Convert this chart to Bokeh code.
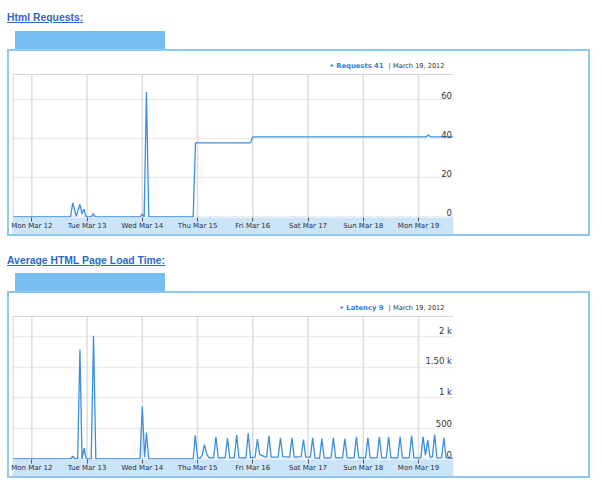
import pandas as pd
from bokeh.plotting import figure
from bokeh.models import Range1d, FixedTicker, Div, Label, Span, ColumnDataSource
from bokeh.layouts import column
from bokeh.embed import file_html
from bokeh.resources import INLINE
from bokeh.core.properties import value

# ---------------- data ----------------
base_day = "2012-03-12"
day_dates = ["2012-03-12", "2012-03-13", "2012-03-14", "2012-03-15",
             "2012-03-16", "2012-03-17", "2012-03-18", "2012-03-19"]
day_labels = ["Mon Mar 12", "Tue Mar 13", "Wed Mar 14", "Thu Mar 15",
              "Fri Mar 16", "Sat Mar 17", "Sun Mar 18", "Mon Mar 19"]
legend_date = "March 19, 2012"

# Html Requests (hours from Mon Mar 12 00:00, value)
req_title = "Html Requests:"
req_name = "Requests"
req_hours = [-8, 16.8, 17.8, 19.3, 20.9, 21.8, 22.6, 23.6, 25.8, 26.7, 27.6,
             47, 48, 48.8, 49.8, 50.8, 70.1, 71.1, 95, 96, 171.3, 172.3, 173.3, 183]
req_values = [0, 0, 7.3, 0.3, 6.5, 1.5, 4, 0, 0, 1.7, 0,
              0, 1.5, 0, 64, 0, 0, 38, 38, 41, 41, 42, 41, 41]
req_ticks = [0, 20, 40, 60]
req_tick_labels = ["0", "20", "40", "60"]

# Average HTML Page Load Time
lat_title = "Average HTML Page Load Time:"
lat_name = "Latency"
lat_hours = [-8, 16.8, 17.8, 18.8, 19.9, 20.9, 21.8, 22.7, 23.6, 25.8, 26.8, 27.8,
             47, 48, 49, 49.8, 50.8, 70.1, 71, 72, 73, 74, 75, 76, 77,
             79, 80, 81, 84, 85, 86, 88, 89, 90, 93, 94, 95,
             97, 98, 99, 100, 101, 102, 103, 104, 107, 108, 109,
             112, 113, 114, 117, 118, 119, 121, 122, 123, 125, 126, 127,
             130, 131, 132, 135, 136, 137, 140, 141, 142, 145, 146, 147,
             150, 151, 152, 154, 155, 156, 159, 160, 161, 164, 165, 166,
             169, 170, 171, 172, 173, 174, 175, 176, 178, 179, 180, 183]
lat_values = [0, 0, 45, 0, 0, 1790, 0, 180, 0, 0, 2020, 0,
              0, 860, 30, 435, 0, 0, 390, 20, 10, 60, 237, 80, 20,
              20, 364, 20, 20, 337, 20, 20, 392, 20, 20, 420, 20,
              30, 325, 70, 60, 40, 30, 380, 30, 30, 347, 40,
              30, 347, 30, 40, 320, 30, 30, 347, 20, 10, 335, 20,
              20, 345, 20, 20, 335, 20, 20, 365, 20, 20, 345, 20,
              20, 365, 20, 20, 365, 20, 20, 365, 20, 20, 380, 20,
              20, 365, 60, 310, 30, 30, 400, 20, 20, 345, 20, 9]
lat_ticks = [0, 500, 1000, 1500, 2000]
lat_tick_labels = ["0", "500", "1 k", "1.50 k", "2 k"]

# ---------------- styling ----------------
TITLE_BLUE = "#2a6ac8"
TAB_BLUE = "#77bff0"
BOX_BLUE = "#8cc8f0"
BAND_BLUE = "#cce4f7"
LINE_BLUE = "#3b8ee0"
LEGEND_BLUE = "#2f7fd8"

t0 = pd.Timestamp(base_day)
x_start = t0 - pd.Timedelta(hours=8.4)
x_end = t0 + pd.Timedelta(days=7, hours=15.2)
day_ms = [int(pd.Timestamp(d).value // 10**6) for d in day_dates]
day_ts = [pd.Timestamp(d) for d in day_dates]


def make_title(text, top_pad, height):
    return Div(
        text=('<div style="padding-top:%dpx;font-family:\'Liberation Sans\',Arial,sans-serif;'
              'font-size:10.4px;font-weight:bold;color:%s;text-decoration:underline;'
              'white-space:nowrap;">%s</div>') % (top_pad, TITLE_BLUE, text),
        width=300, height=height, margin=(0, 0, 0, 7))


def make_tab():
    return Div(text="", width=150, height=18, margin=(0, 0, 0, 15),
               styles={"background-color": TAB_BLUE})


def make_chart(hours, values, ticks, tick_labels, y_start, y_top, y_end, name):
    # frame covers the plot area plus the legend strip above it
    xs = [t0 + pd.Timedelta(hours=h) for h in hours]
    p = figure(frame_width=437, frame_height=159, x_axis_type="datetime",
               y_axis_location=None,
               x_range=Range1d(x_start, x_end), y_range=Range1d(y_start, y_end),
               toolbar_location=None, output_backend="svg",
               min_border_left=3, min_border_right=139, min_border_top=3,
               min_border_bottom=16,
               styles={"border": "2px solid " + BOX_BLUE},
               margin=(0, 0, 0, 7))
    p.outline_line_color = None
    p.background_fill_color = "white"
    p.border_fill_color = "white"

    ax = p.xaxis[0]
    ax.ticker = FixedTicker(ticks=day_ms)
    ax.major_label_overrides = dict(zip(day_ms, day_labels))
    ax.axis_line_color = None
    ax.major_tick_line_color = "#555555"
    ax.major_tick_out = 4
    ax.major_tick_in = 0
    ax.minor_tick_line_color = None
    ax.major_label_standoff = 0
    ax.major_label_text_font = "DejaVu Sans"
    ax.major_label_text_font_size = "7px"
    ax.major_label_text_color = "#1f2d45"
    ax.axis_label = "\u00a0"
    ax.axis_label_text_font_size = "1px"
    ax.axis_label_standoff = 2
    ax.background_fill_color = BAND_BLUE

    p.xgrid.grid_line_color = None
    p.ygrid.ticker = FixedTicker(ticks=ticks)
    p.ygrid.grid_line_color = "#ececec"
    p.ygrid.grid_line_width = 1.5

    # vertical day lines stop at the top of the plot area
    p.segment(x0=day_ts, y0=[y_start] * len(day_ts), x1=day_ts, y1=[y_top] * len(day_ts),
              line_color="#dddddd", line_width=1.5)
    p.segment(x0=[x_start], y0=[y_start], x1=[x_start], y1=[y_top],
              line_color="#d6d6d6", line_width=2)
    p.add_layout(Span(location=y_top, dimension="width",
                      line_color="#d6d6d6", line_width=1))

    src = ColumnDataSource(dict(x=xs, y=values))
    p.line(x="x", y="y", source=src, line_color=LINE_BLUE, line_width=1.3)

    lab_src = ColumnDataSource(dict(x=[x_end] * len(ticks), y=ticks, t=tick_labels))
    p.text(x="x", y="y", text="t", source=lab_src, text_align="right",
           text_baseline="bottom", x_offset=-1.5, y_offset=-1,
           text_font=value("DejaVu Sans"), text_font_size="8.5px",
           text_color="#333333")

    last = values[-1]
    p.add_layout(Label(x=371, y=152, x_units="screen", y_units="screen",
                       text="\u2022 %s %g" % (name, last), text_align="right",
                       text_baseline="middle", text_font="DejaVu Sans",
                       text_font_style="bold",
                       text_font_size="6.8px", text_color=LEGEND_BLUE))
    p.add_layout(Label(x=432, y=152, x_units="screen", y_units="screen",
                       text="| " + legend_date, text_align="right",
                       text_baseline="middle", text_font="DejaVu Sans",
                       text_font_size="6.6px", text_color="#333333"))
    return p


p1 = make_chart(req_hours, req_values, req_ticks, req_tick_labels,
                -0.26, 72.96, 83.2, req_name)
p2 = make_chart(lat_hours, lat_values, lat_ticks, lat_tick_labels,
                -8.2, 2336, 2663, lat_name)

layout = column(make_title(req_title, 11, 31), make_tab(), p1,
                make_title(lat_title, 18, 37), make_tab(), p2,
                spacing=0, margin=0)

open("out.html", "w").write(file_html(layout, INLINE))
